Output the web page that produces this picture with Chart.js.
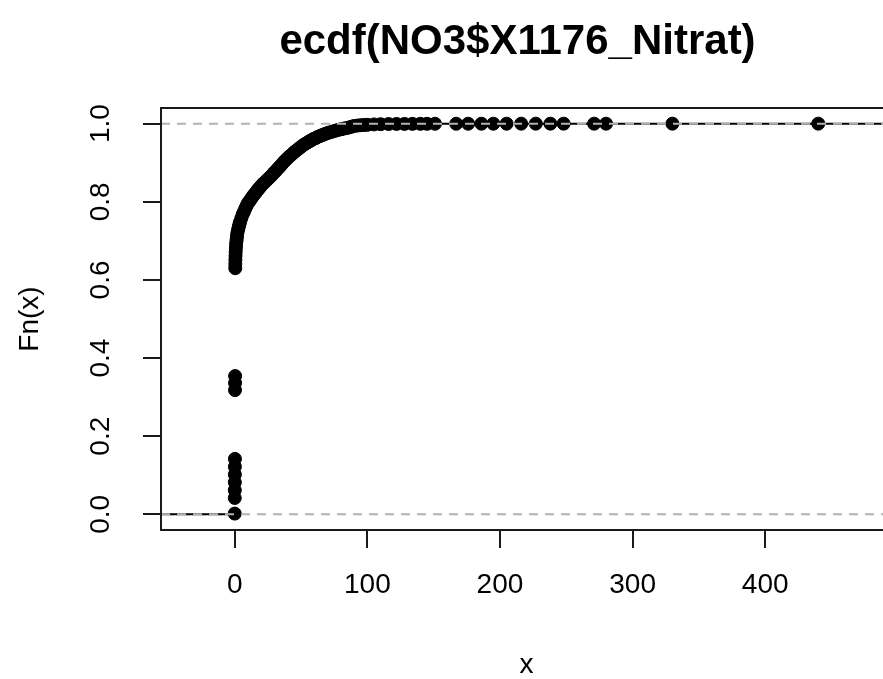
<!DOCTYPE html>
<html>
<head>
<meta charset="utf-8">
<script src="https://cdn.jsdelivr.net/npm/chart.js@4"></script>
<style>
  body { margin: 0; background: #fff; }
  #wrap { width: 883px; height: 679px; overflow: hidden; position: relative; }
  canvas { display: block; }
</style>
</head>
<body>
<div id="wrap"><canvas id="ecdfChart" width="900" height="679"></canvas></div>
<script>
// knots of the ecdf (x) and the value of Fn at each knot
const knotX = [
  0, 0.02, 0.05, 0.08, 0.1, 0.12, 0.15,
  0.2, 0.25, 0.3,
  0.4, 0.45, 0.5, 0.6, 0.7, 0.85, 1, 1.25, 1.5, 1.75, 2, 2.5, 3, 3.5, 4, 5, 6, 7, 8, 9, 10, 11, 12, 13,
  14, 15, 16, 17, 18, 19, 20, 21, 22, 23.5, 25, 26.5,
  28, 29.5, 31, 32.5, 34, 35.5, 37, 38.5, 40, 41.5, 43, 44.5, 46, 47.5, 49, 50.5, 52, 53.5, 55, 56.5,
  58, 59.5, 61, 62.5, 64, 65.5, 67, 68.5, 70, 72, 74, 76, 78, 80, 82, 84, 86, 88,
  90, 92.5, 95, 97.5, 100, 105, 110, 116, 122, 128, 134, 140, 145,
  151, 167, 176, 186, 195, 205, 216, 227, 238, 248, 271, 280, 330, 440
];
const knotF = [
  0.002, 0.042, 0.062, 0.082, 0.102, 0.122, 0.142,
  0.318, 0.336, 0.354,
  0.63, 0.641, 0.652, 0.662, 0.672, 0.681, 0.69, 0.698, 0.705, 0.713, 0.72, 0.728, 0.735, 0.742, 0.748, 0.758, 0.768, 0.775, 0.783, 0.79, 0.797, 0.801, 0.806, 0.811,
  0.816, 0.82, 0.824, 0.829, 0.833, 0.837, 0.841, 0.845, 0.848, 0.853, 0.858, 0.863,
  0.868, 0.874, 0.879, 0.885, 0.89, 0.896, 0.902, 0.907, 0.912, 0.917, 0.921, 0.926, 0.93, 0.934, 0.938, 0.942, 0.946, 0.949, 0.952, 0.955,
  0.958, 0.961, 0.963, 0.966, 0.968, 0.97, 0.972, 0.974, 0.976, 0.978, 0.98, 0.982, 0.984, 0.9855, 0.987, 0.9885, 0.99, 0.992,
  0.994, 0.995, 0.996, 0.9965, 0.997, 0.998, 0.9985, 0.999, 0.9992, 0.9993, 0.9994, 0.9995, 0.9996,
  0.9997, 0.9997, 0.9998, 0.9998, 0.9998, 0.9998, 0.9999, 0.9999, 0.9999, 0.9999, 0.9999, 0.9999, 0.9999, 1
];
const xTicks = [0, 100, 200, 300, 400];
const yTicks = [0, 0.2, 0.4, 0.6, 0.8, 1.0];
const refLevels = [0, 1];

const X_MIN = -55.6, X_MAX = 495.6;
const Y_MIN = -0.04, Y_MAX = 1.04;
const FONT = '"Liberation Sans", Arial, sans-serif';

// points of the ecdf
const pointData = knotX.map((x, i) => ({ x, y: knotF[i] }));

// horizontal step pieces, broken with nulls (no verticals, like plot.ecdf)
const stepData = [{ x: X_MIN, y: 0 }, { x: knotX[0], y: 0 }, { x: knotX[0], y: null }];
knotX.forEach((x, i) => {
  const next = i < knotX.length - 1 ? knotX[i + 1] : X_MAX;
  stepData.push({ x, y: knotF[i] }, { x: next, y: knotF[i] }, { x: next, y: null });
});

// gray dashed lines at 0 and 1
const refDatasets = refLevels.map(h => ({
  data: [{ x: X_MIN, y: h }, { x: X_MAX, y: h }],
  showLine: true,
  borderColor: '#b3b3b3',
  borderWidth: 2,
  borderDash: [9, 7],
  pointRadius: 0,
  order: 0
}));

// box, main title
const rFrame = {
  id: 'rFrame',
  afterDraw(chart) {
    const { ctx, chartArea: a } = chart;
    ctx.save();
    ctx.strokeStyle = '#1a1a1a';
    ctx.lineWidth = 2;
    ctx.strokeRect(a.left, a.top, a.right - a.left, a.bottom - a.top);
    ctx.fillStyle = '#000';
    ctx.font = 'bold 42px ' + FONT;
    ctx.textAlign = 'center';
    ctx.textBaseline = 'middle';
    ctx.fillText('ecdf(NO3$X1176_Nitrat)', (a.left + a.right) / 2 - 9, 42);
    ctx.restore();
  }
};

new Chart(document.getElementById('ecdfChart'), {
  type: 'scatter',
  data: {
    datasets: [
      ...refDatasets,
      {
        data: pointData,
        pointRadius: 6.5,
        pointBackgroundColor: '#000',
        pointBorderColor: '#000',
        pointBorderWidth: 1,
        showLine: false,
        order: 1
      },
      {
        data: stepData,
        showLine: true,
        spanGaps: false,
        borderColor: '#000',
        borderWidth: 2,
        pointRadius: 0,
        order: 2
      }
    ]
  },
  options: {
    responsive: false,
    animation: false,
    layout: { padding: { top: 108, right: 8, left: 0, bottom: 0 } },
    plugins: { legend: { display: false }, tooltip: { enabled: false } },
    scales: {
      x: {
        type: 'linear',
        min: X_MIN,
        max: X_MAX,
        afterBuildTicks: s => { s.ticks = xTicks.map(v => ({ value: v })); },
        afterFit: s => { s.height = 149; },
        grid: { drawOnChartArea: false, drawTicks: true, tickLength: 18, color: '#1a1a1a', lineWidth: 2 },
        border: { display: false },
        ticks: { color: '#000', font: { family: FONT, size: 28 }, padding: 20, maxRotation: 0 },
        title: { display: true, text: 'x', color: '#000', font: { family: FONT, size: 28, lineHeight: 1 }, padding: { top: 0, bottom: 0 } }
      },
      y: {
        type: 'linear',
        min: Y_MIN,
        max: Y_MAX,
        afterBuildTicks: s => { s.ticks = yTicks.map(v => ({ value: v })); },
        afterFit: s => { s.width = 161; },
        grid: { drawOnChartArea: false, drawTicks: true, tickLength: 18, color: '#1a1a1a', lineWidth: 2 },
        border: { display: false },
        ticks: {
          color: '#000', font: { family: FONT, size: 28 }, padding: 22,
          minRotation: 90, maxRotation: 90, crossAlign: 'center',
          callback: v => v.toFixed(1)
        },
        title: { display: true, text: 'Fn(x)', color: '#000', font: { family: FONT, size: 28, lineHeight: 1 }, padding: { top: 16, bottom: 0 } }
      }
    }
  },
  plugins: [rFrame]
});
</script>
</body>
</html>
